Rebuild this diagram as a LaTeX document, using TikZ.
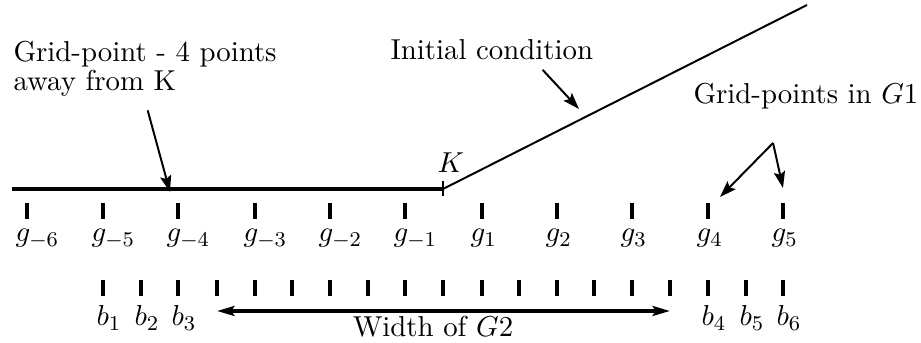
\documentclass[11pt,tikz,border=0pt]{standalone}
\usepackage{amsmath,amssymb}
\usepackage{tikz}
\usetikzlibrary{arrows.meta,positioning}

\begin{document}
\begin{tikzpicture}[
  x=0.38pt, y=-0.38pt,
  tick/.style={fill=black, inner sep=0pt, minimum width=1.2pt, minimum height=6.4pt},
  sublbl/.style={anchor=base west, inner sep=0pt},
  note/.style={inner sep=0pt, align=left},
  arrow/.style={-{Stealth[length=2.2mm, width=1.5mm, inset=0.4mm]}, line width=0.75pt},
  span/.style={{Stealth[length=2.3mm, width=1.3mm, inset=0.4mm]}-{Stealth[length=2.3mm, width=1.3mm, inset=0.4mm]}, line width=1.5pt}
]
  \useasboundingbox (0,0) rectangle (921,343);

  % K and the initial condition
  \coordinate (lineleft) at (12,189);
  \coordinate (icend) at (807,5);
  \node[tick, minimum width=0.9pt, minimum height=5.7pt] (K) at (443,189) {};
  \draw[line width=1.5pt] (lineleft) -- (K.center);
  \draw[line width=0.75pt] (K.center) -- (icend);
  \node[sublbl] (Klbl) at (437,173) {$K$};

  % grid-points g
  \node[tick] (tgm6) at (27,211) {};
  \node[tick] (tgm5) at (103,211) {};
  \node[tick] (tgm4) at (178,211) {};
  \node[tick] (tgm3) at (255,211) {};
  \node[tick] (tgm2) at (330,211) {};
  \node[tick] (tgm1) at (405,211) {};
  \node[tick] (tg1) at (482,211) {};
  \node[tick] (tg2) at (557,211) {};
  \node[tick] (tg3) at (632,211) {};
  \node[tick] (tg4) at (708,211) {};
  \node[tick] (tg5) at (783,211) {};
  \node[sublbl] (lgm6) at (15,242) {$g_{-6}$};
  \node[sublbl] (lgm5) at (91,242) {$g_{-5}$};
  \node[sublbl] (lgm4) at (166,242) {$g_{-4}$};
  \node[sublbl] (lgm3) at (243,242) {$g_{-3}$};
  \node[sublbl] (lgm2) at (318,242) {$g_{-2}$};
  \node[sublbl] (lgm1) at (393,242) {$g_{-1}$};
  \node[sublbl] (lg1) at (470,242) {$g_1$};
  \node[sublbl] (lg2) at (545,242) {$g_2$};
  \node[sublbl] (lg3) at (620,242) {$g_3$};
  \node[sublbl] (lg4) at (696,242) {$g_4$};
  \node[sublbl] (lg5) at (771,242) {$g_5$};

  % grid-points b
  \node[tick] (tb1) at (103,288) {};
  \node[tick] (tb2) at (141,288) {};
  \node[tick] (tb3) at (178,288) {};
  \foreach \x [count=\i] in {217,255,292,330,368,405,443,482,519,557,594,632,670}
    \node[tick] (tw\i) at (\x,288) {};
  \node[tick] (tb4) at (708,288) {};
  \node[tick] (tb5) at (746,288) {};
  \node[tick] (tb6) at (783,288) {};
  \node[sublbl] (lb1) at (96,326) {$b_1$};
  \node[sublbl] (lb2) at (134,326) {$b_2$};
  \node[sublbl] (lb3) at (171,326) {$b_3$};
  \node[sublbl] (lb4) at (701,326) {$b_4$};
  \node[sublbl] (lb5) at (739,326) {$b_5$};
  \node[sublbl] (lb6) at (776,326) {$b_6$};

  % width of G2
  \coordinate (wl) at (217,311);
  \coordinate (wr) at (670,311);
  \draw[span] (wl) -- (wr);
  \node[anchor=base, inner sep=0pt] (wlbl) at (433,337) {Width of $G2$};

  % notes
  \node[note, anchor=north west] (gp) at (13,41) {Grid-point - 4 points\\[-2.6pt]away from K};
  \coordinate (gptip) at (170,192);
  \draw[arrow] ([xshift=1pt, yshift=-5pt]gp.south) -- (gptip);

  \node[note, anchor=base west] (ic) at (390,60) {Initial condition};
  \coordinate (ictip) at (579,109);
  \draw[arrow] ([xshift=-19.4pt, yshift=-3.4pt]ic.south east) -- (ictip);

  \node[note, anchor=base west] (gg1) at (693,104) {Grid-points in $G1$};
  \coordinate (apex) at ([xshift=-12.5pt, yshift=-12.5pt]gg1.south);
  \coordinate (g4tip) at (720,197);
  \coordinate (g5tip) at (783,188);
  \draw[arrow] (apex) -- (g4tip);
  \draw[arrow] (apex) -- (g5tip);
\end{tikzpicture}
\end{document}
